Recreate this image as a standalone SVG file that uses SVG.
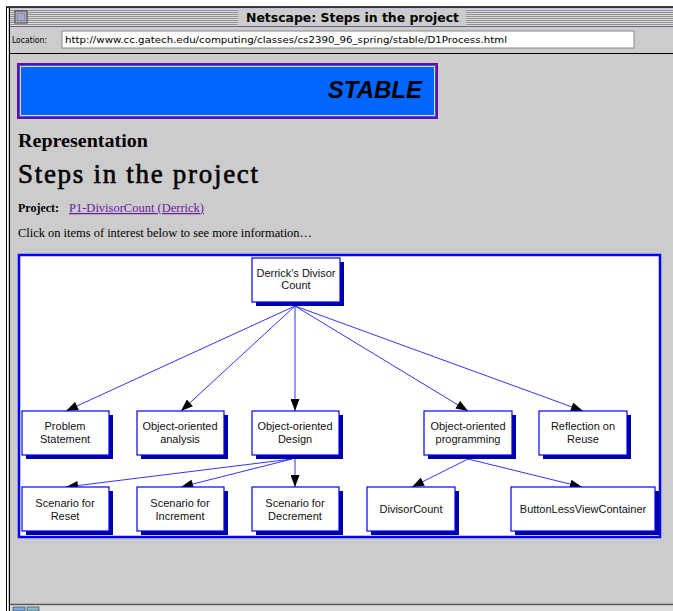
<svg xmlns="http://www.w3.org/2000/svg" width="673" height="611" viewBox="0 0 673 611">
<defs>
<style>
.node rect.sh{fill:#0000a0}
.node rect.bx{fill:#fff;stroke:#0000ff;stroke-width:1.2}
.node text{font-family:"Liberation Sans",Arial,sans-serif;font-size:11px;fill:#111;text-anchor:middle}
#connectors line{stroke:#3333ff;stroke-width:1}
.serif{font-family:"Liberation Serif","Times New Roman",serif;fill:#000}
</style>
<marker id="ah" viewBox="0 0 12 9" refX="12" refY="4.5" markerWidth="13" markerHeight="9" markerUnits="userSpaceOnUse" orient="auto">
<path d="M0,0 L12,4.5 L0,9 z" fill="#000"/>
</marker>
<pattern id="stripes" width="4" height="2" patternUnits="userSpaceOnUse">
<rect width="4" height="1" fill="#8f8f8f"/>
<rect y="1" width="4" height="1" fill="#dcdcdc"/>
</pattern>
</defs>
<rect width="673" height="611" fill="#fff"/>
<rect x="6" y="7" width="667" height="604" fill="#cccccc"/>
<line x1="6" y1="7" x2="673" y2="7" stroke="#000" stroke-width="1.5"/>
<line x1="6.5" y1="7" x2="6.5" y2="611" stroke="#000"/>
<line x1="7.5" y1="8" x2="7.5" y2="611" stroke="#fff" stroke-width="1"/>
<line x1="9.5" y1="8" x2="9.5" y2="611" stroke="#000"/>
<rect x="10" y="9" width="663" height="17" fill="url(#stripes)"/>
<line x1="10" y1="8.5" x2="673" y2="8.5" stroke="#c8c0e8"/>
<line x1="10" y1="26.5" x2="673" y2="26.5" stroke="#6a6090"/>
<rect x="238" y="9" width="228" height="17" fill="#cccccc"/>
<rect x="15" y="11" width="12" height="12" fill="#cccccc" stroke="#333" stroke-width="1"/>
<rect x="17" y="13" width="8" height="8" fill="#a8a8d8" stroke="#555" stroke-width="0.6"/>
<text x="246" y="22" font-family="'DejaVu Sans Condensed','DejaVu Sans',sans-serif" font-weight="bold" font-size="13" fill="#000" textLength="213" lengthAdjust="spacingAndGlyphs">Netscape: Steps in the project</text>
<text x="12" y="43" font-family="'DejaVu Sans Condensed','DejaVu Sans',sans-serif" font-size="8.5" fill="#000">Location:</text>
<rect x="62" y="31" width="572" height="17" fill="#fff" stroke="#888" stroke-width="1"/>
<text x="65" y="43" font-family="'DejaVu Sans Condensed','DejaVu Sans',sans-serif" font-size="8.5" fill="#000" textLength="442" lengthAdjust="spacingAndGlyphs">http://www.cc.gatech.edu/computing/classes/cs2390_96_spring/stable/D1Process.html</text>
<line x1="10" y1="53.5" x2="673" y2="53.5" stroke="#000" stroke-width="1.2"/>
<rect x="18" y="64" width="419" height="54" fill="#0066ff" stroke="#7a00a0" stroke-width="2"/>
<rect x="20.5" y="66.5" width="414" height="49" fill="none" stroke="#dde" stroke-width="1"/>
<text x="422" y="98" text-anchor="end" font-family="'Liberation Sans',Arial,sans-serif" font-style="italic" font-weight="bold" font-size="24" fill="#000">STABLE</text>
<text class="serif" x="18" y="147" font-size="18" font-weight="bold" textLength="130" lengthAdjust="spacingAndGlyphs">Representation</text>
<text class="serif" x="18" y="183" font-size="27" stroke="#000" stroke-width="0.6" textLength="240" lengthAdjust="spacing">Steps in the project</text>
<text class="serif" x="18" y="212" font-size="12" font-weight="bold">Project:</text>
<text class="serif" x="69" y="212" font-size="12" style="fill:#6a1aa0" textLength="135" lengthAdjust="spacingAndGlyphs" text-decoration="underline">P1-DivisorCount (Derrick)</text>
<text class="serif" x="18" y="237" font-size="12" textLength="294" lengthAdjust="spacingAndGlyphs">Click on items of interest below to see more information…</text>
<rect x="19" y="255" width="641" height="282" fill="#fff" stroke="#0000ff" stroke-width="2.5"/>
<g id="connectors" marker-end="url(#ah)">
<line x1="295" y1="306" x2="66" y2="411"/>
<line x1="295" y1="306" x2="181" y2="411"/>
<line x1="295" y1="306" x2="295" y2="411"/>
<line x1="295" y1="306" x2="468" y2="411"/>
<line x1="295" y1="306" x2="583" y2="411"/>
<line x1="292" y1="459" x2="66" y2="487"/>
<line x1="292" y1="459" x2="181" y2="487"/>
<line x1="295" y1="459" x2="295" y2="487"/>
<line x1="468" y1="459" x2="412" y2="487"/>
<line x1="468" y1="459" x2="582" y2="487"/>
</g>
<g id="n-root" class="node"><rect class="sh" x="256" y="262" width="88" height="44"/><rect class="bx" x="252" y="258" width="88" height="44"/><text x="296" y="277">Derrick's Divisor</text><text x="296" y="289">Count</text></g>
<g id="n-problem" class="node"><rect class="sh" x="26" y="415" width="87" height="44"/><rect class="bx" x="22" y="411" width="87" height="44"/><text x="65" y="430">Problem</text><text x="65" y="443">Statement</text></g>
<g id="n-ooa" class="node"><rect class="sh" x="141" y="415" width="87" height="44"/><rect class="bx" x="137" y="411" width="87" height="44"/><text x="180" y="430">Object-oriented</text><text x="180" y="443">analysis</text></g>
<g id="n-ood" class="node"><rect class="sh" x="256" y="415" width="87" height="44"/><rect class="bx" x="252" y="411" width="87" height="44"/><text x="295" y="430">Object-oriented</text><text x="295" y="443">Design</text></g>
<g id="n-oop" class="node"><rect class="sh" x="428" y="415" width="88" height="44"/><rect class="bx" x="424" y="411" width="88" height="44"/><text x="468" y="430">Object-oriented</text><text x="468" y="443">programming</text></g>
<g id="n-reflection" class="node"><rect class="sh" x="543" y="415" width="88" height="44"/><rect class="bx" x="539" y="411" width="88" height="44"/><text x="583" y="430">Reflection on</text><text x="583" y="443">Reuse</text></g>
<g id="n-reset" class="node"><rect class="sh" x="26" y="491" width="87" height="44"/><rect class="bx" x="22" y="487" width="87" height="44"/><text x="65" y="507">Scenario for</text><text x="65" y="520">Reset</text></g>
<g id="n-increment" class="node"><rect class="sh" x="141" y="491" width="87" height="44"/><rect class="bx" x="137" y="487" width="87" height="44"/><text x="180" y="507">Scenario for</text><text x="180" y="520">Increment</text></g>
<g id="n-decrement" class="node"><rect class="sh" x="256" y="491" width="87" height="44"/><rect class="bx" x="252" y="487" width="87" height="44"/><text x="295" y="507">Scenario for</text><text x="295" y="520">Decrement</text></g>
<g id="n-divisorcount" class="node"><rect class="sh" x="371" y="491" width="88" height="44"/><rect class="bx" x="367" y="487" width="88" height="44"/><text x="411" y="513">DivisorCount</text></g>
<g id="n-buttonless" class="node"><rect class="sh" x="515" y="491" width="144" height="44"/><rect class="bx" x="511" y="487" width="144" height="44"/><text x="583" y="513">ButtonLessViewContainer</text></g>
<line x1="10" y1="604.5" x2="673" y2="604.5" stroke="#555" stroke-width="1.5"/>
<rect x="10" y="605.5" width="663" height="6" fill="#dcdcdc"/>
<rect x="13" y="607" width="12" height="4" fill="#7aa8d8" stroke="#335" stroke-width="0.6"/>
<rect x="27" y="607" width="12" height="4" fill="#8ab8c8" stroke="#335" stroke-width="0.6"/>
</svg>
